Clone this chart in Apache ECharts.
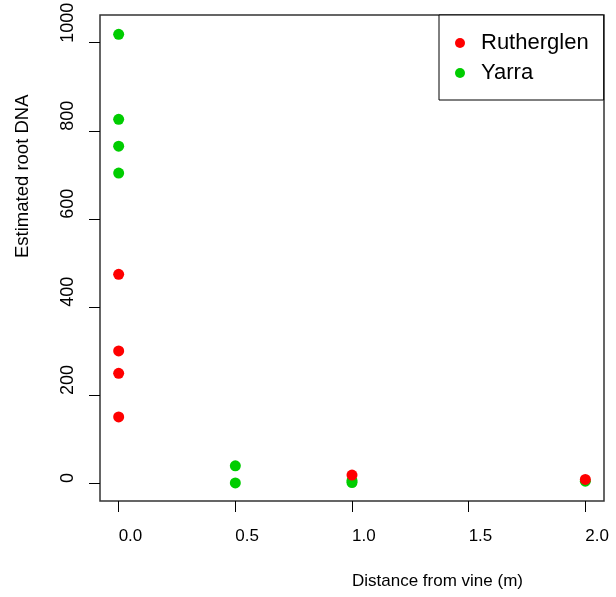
<!DOCTYPE html>
<html>
<head>
<meta charset="utf-8">
<script src="https://cdn.jsdelivr.net/npm/echarts@6/dist/echarts.min.js"></script>
<style>
  html, body { margin: 0; padding: 0; background: #fff; }
  #chart { width: 616px; height: 597px; }
</style>
</head>
<body>
<div id="chart"></div>
<script>
// data: [distance (m), estimated root DNA]
var rutherglen = [[0, 474], [0, 300], [0, 249], [0, 150], [1, 18], [2, 8]];
var yarra = [[0, 1019], [0, 826], [0, 765], [0, 704], [0.5, 39], [0.5, 0], [1, 5], [1, 1], [2, 4]];
var xTicks = [0, 0.5, 1, 1.5, 2];
var yTicks = [0, 200, 400, 600, 800, 1000];

var chart = echarts.init(document.getElementById('chart'));

var font = 'Liberation Sans, Arial, sans-serif';

var option = {
    animation: false,
    backgroundColor: '#fff',
    grid: {
        left: 100, top: 15, width: 504, height: 486,
        outerBoundsMode: 'none',
        show: true, borderColor: '#333', borderWidth: 1.5, backgroundColor: 'transparent'
    },
    legend: {
        data: ['Rutherglen', 'Yarra'],
        orient: 'vertical',
        left: 439, top: 15,
        padding: [17, 15, 16, 16],
        itemGap: 8,
        itemWidth: 32, itemHeight: 10,
        icon: 'circle',
        borderColor: '#000', borderWidth: 1,
        backgroundColor: '#fff',
        textStyle: { fontFamily: font, fontSize: 22, lineHeight: 22, color: '#000' }
    },
    xAxis: {
        type: 'value',
        position: 'bottom',
        min: -0.08, max: 2.08,
        name: 'Distance from vine (m)',
        nameLocation: 'middle',
        nameGap: 80,
        nameTextStyle: { fontFamily: font, fontSize: 17, color: '#000', align: 'left', verticalAlign: 'middle' },
        axisLine: { show: false, onZero: false },
        axisTick: { show: true, inside: false, length: 11, customValues: xTicks, lineStyle: { color: '#000', width: 1 } },
        axisLabel: {
            customValues: xTicks, margin: 35,
            fontFamily: font, fontSize: 17, color: '#000',
            align: 'left', verticalAlign: 'middle',
            formatter: function (v) { return v.toFixed(1); }
        },
        splitLine: { show: false }
    },
    yAxis: {
        type: 'value',
        position: 'left',
        min: -41, max: 1063,
        name: 'Estimated root DNA',
        nameLocation: 'middle',
        nameRotate: 90,
        nameGap: 77,
        nameTextStyle: { fontFamily: font, fontSize: 18.5, color: '#000', align: 'left', verticalAlign: 'middle' },
        axisLine: { show: false, onZero: false },
        axisTick: { show: true, inside: false, length: 11, customValues: yTicks, lineStyle: { color: '#000', width: 1 } },
        axisLabel: {
            customValues: yTicks, margin: 32, rotate: 90,
            fontFamily: font, fontSize: 18, color: '#000',
            align: 'left', verticalAlign: 'middle',
            formatter: function (v) { return String(v); }
        },
        splitLine: { show: false }
    },
    series: [
        {
            name: 'Yarra', type: 'scatter', data: yarra,
            symbolSize: 11, itemStyle: { color: '#00CD00', opacity: 1 }
        },
        {
            name: 'Rutherglen', type: 'scatter', data: rutherglen,
            symbolSize: 11, itemStyle: { color: '#FF0000', opacity: 1 }
        }
    ]
};

chart.setOption(option);
</script>
</body>
</html>
